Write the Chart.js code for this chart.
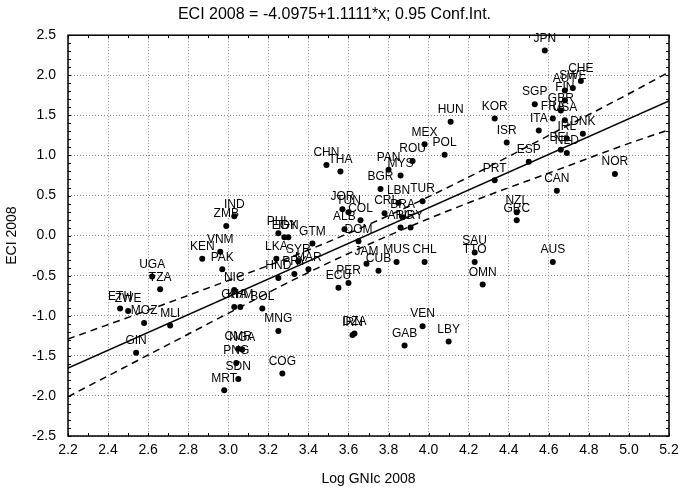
<!DOCTYPE html>
<html>
<head>
<meta charset="utf-8">
<title>ECI 2008 vs Log GNIc 2008</title>
<script src="https://cdn.jsdelivr.net/npm/chart.js@4.4.1/dist/chart.umd.min.js"></script>
<style>
  html, body { margin: 0; padding: 0; background: #fff; }
</style>
</head>
<body>
<canvas id="eciChart" width="680" height="492"></canvas>
<script>
// country codes with log GNI per capita and ECI, 2008
const countries = [
  'JPN', 'CHE', 'SWE', 'AUT', 'FIN', 'GBR', 'FRA', 'USA', 'ITA', 'SGP',
  'DNK', 'IRL', 'BEL', 'NLD', 'KOR', 'HUN', 'ISR', 'MEX', 'POL', 'ESP',
  'PRT', 'NOR', 'CAN', 'NZL', 'GRC', 'AUS', 'SAU', 'TTO', 'OMN', 'CHL',
  'MUS', 'VEN', 'LBY', 'GAB', 'IRN', 'DZA', 'CHN', 'THA', 'PAN', 'MYS',
  'ROU', 'BGR', 'LBN', 'TUR', 'CRI', 'BRA', 'ARG', 'URY', 'JOR', 'TUN',
  'COL', 'ALB', 'DOM', 'GTM', 'JAM', 'CUB', 'ECU', 'PER', 'MAR', 'PRY',
  'SYR', 'LKA', 'HND', 'PHL', 'EGY', 'IDN', 'MNG', 'COG', 'BOL', 'GHA',
  'KHM', 'IND', 'ZMB', 'VNM', 'PAK', 'KEN', 'NIC', 'UGA', 'TZA', 'ETH',
  'ZWE', 'MOZ', 'MLI', 'GIN', 'CMR', 'NGA', 'PNG', 'SDN', 'MRT'
]
const logGni = [
  4.58, 4.76, 4.72, 4.68, 4.68, 4.66, 4.62, 4.68, 4.55, 4.53,
  4.77, 4.69, 4.66, 4.69, 4.33, 4.11, 4.39, 3.98, 4.08, 4.50,
  4.33, 4.93, 4.64, 4.44, 4.44, 4.62, 4.23, 4.23, 4.27, 3.98,
  3.84, 3.97, 4.10, 3.88, 3.62, 3.63, 3.49, 3.56, 3.80, 3.86,
  3.92, 3.76, 3.85, 3.97, 3.78, 3.87, 3.86, 3.91, 3.57, 3.60,
  3.66, 3.58, 3.65, 3.42, 3.69, 3.75, 3.55, 3.60, 3.40, 3.33,
  3.35, 3.24, 3.25, 3.25, 3.28, 3.30, 3.25, 3.27, 3.17, 3.03,
  3.06, 3.03, 2.99, 2.96, 2.97, 2.87, 3.03, 2.62, 2.66, 2.46,
  2.50, 2.58, 2.71, 2.54, 3.05, 3.07, 3.04, 3.05, 2.98
]
const eci = [
  2.31, 1.93, 1.84, 1.81, 1.69, 1.56, 1.46, 1.44, 1.31, 1.64,
  1.27, 1.21, 1.07, 1.03, 1.46, 1.42, 1.16, 1.14, 1.01, 0.92,
  0.69, 0.77, 0.56, 0.29, 0.19, -0.33, -0.21, -0.33, -0.61, -0.33,
  -0.33, -1.13, -1.32, -1.37, -1.24, -1.22, 0.88, 0.80, 0.82, 0.75,
  0.93, 0.58, 0.41, 0.43, 0.28, 0.23, 0.10, 0.10, 0.33, 0.29,
  0.19, 0.08, -0.07, -0.10, -0.35, -0.44, -0.65, -0.59, -0.42, -0.48,
  -0.32, -0.29, -0.53, 0.03, -0.02, -0.02, -1.19, -1.72, -0.91, -0.89,
  -0.89, 0.24, 0.12, -0.20, -0.42, -0.29, -0.68, -0.51, -0.67, -0.91,
  -0.94, -1.09, -1.12, -1.46, -1.41, -1.42, -1.59, -1.79, -1.93
]

// fitted line: ECI = -4.0975 + 1.1111 * x
const intercept = -4.0975
const slope = 1.1111
const fitX = [2.2, 5.2]

// 0.95 confidence band
const bandX = [2.2, 2.6, 3.0, 3.4, 3.8, 4.2, 4.6, 5.0, 5.2]
const bandUpper = [-1.29, -0.93, -0.56, -0.18, 0.25, 0.73, 1.25, 1.77, 2.04]
const bandLower = [-2.01, -1.49, -0.97, -0.46, 0.00, 0.41, 0.78, 1.15, 1.32]

const chartTitle = 'ECI 2008 = -4.0975+1.1111*x; 0.95 Conf.Int.'
const xTitle = 'Log GNIc 2008'
const yTitle = 'ECI 2008'

const fontFamily = '"Liberation Sans", Arial, Helvetica, sans-serif'

function toPoints(xs, ys) {
  return xs.map((x, i) => ({ x: x, y: ys[i] }))
}

// country code above every dot
const pointLabels = {
  id: 'pointLabels',
  afterDatasetsDraw(chart) {
    const ctx = chart.ctx
    const meta = chart.getDatasetMeta(0)
    ctx.save()
    ctx.font = '12px ' + fontFamily
    ctx.fillStyle = '#000'
    ctx.textAlign = 'center'
    ctx.textBaseline = 'middle'
    meta.data.forEach((pt, i) => {
      ctx.fillText(countries[i], pt.x, pt.y - 12)
    })
    ctx.restore()
  }
}

// box round the plot plus small inward ticks on all four sides
const plotFrame = {
  id: 'plotFrame',
  afterDraw(chart) {
    const ctx = chart.ctx
    const a = chart.chartArea
    const xs = chart.scales.x
    const ys = chart.scales.y
    const len = 3
    ctx.save()
    ctx.strokeStyle = '#000'
    ctx.lineWidth = 1
    ctx.beginPath()
    for (let v = 22; v <= 52; v++) {
      const px = Math.round(xs.getPixelForValue(v / 10)) + 0.5
      ctx.moveTo(px, a.bottom); ctx.lineTo(px, a.bottom - len)
      ctx.moveTo(px, a.top); ctx.lineTo(px, a.top + len)
    }
    for (let v = -25; v <= 25; v++) {
      const py = Math.round(ys.getPixelForValue(v / 10)) + 0.5
      ctx.moveTo(a.left, py); ctx.lineTo(a.left + len, py)
      ctx.moveTo(a.right, py); ctx.lineTo(a.right - len, py)
    }
    ctx.stroke()
    ctx.lineWidth = 1.5
    ctx.strokeRect(a.left, a.top, a.right - a.left, a.bottom - a.top)
    ctx.restore()
  }
}

const lineStyle = {
  type: 'line',
  showLine: true,
  pointRadius: 0,
  borderColor: '#000',
  borderWidth: 1.5,
  fill: false,
  order: 1
}

new Chart(document.getElementById('eciChart'), {
  type: 'scatter',
  data: {
    datasets: [
      {
        data: toPoints(logGni, eci),
        backgroundColor: '#000',
        borderWidth: 0,
        pointRadius: 3,
        order: 0
      },
      Object.assign({}, lineStyle, {
        data: toPoints(fitX, fitX.map(x => intercept + slope * x))
      }),
      Object.assign({}, lineStyle, {
        data: toPoints(bandX, bandUpper),
        borderDash: [7, 5],
        cubicInterpolationMode: 'monotone'
      }),
      Object.assign({}, lineStyle, {
        data: toPoints(bandX, bandLower),
        borderDash: [7, 5],
        cubicInterpolationMode: 'monotone'
      })
    ]
  },
  options: {
    responsive: false,
    animation: false,
    devicePixelRatio: 1,
    events: [],
    layout: { padding: { left: 0, right: 11, top: 0, bottom: 0 } },
    plugins: {
      legend: { display: false },
      tooltip: { enabled: false },
      title: {
        display: true,
        text: chartTitle,
        color: '#000',
        font: { family: fontFamily, size: 16, weight: 'normal' },
        padding: { top: 5, bottom: 11 }
      }
    },
    scales: {
      x: {
        type: 'linear',
        min: 2.2,
        max: 5.2,
        afterFit(scale) {
          scale.height = 56
          scale.paddingLeft = 0
          scale.paddingRight = 0
        },
        ticks: {
          stepSize: 0.2,
          color: '#000',
          padding: 6,
          font: { family: fontFamily, size: 14 },
          callback: v => v.toFixed(1)
        },
        grid: { color: '#8a8a8a', lineWidth: 1, drawTicks: false },
        border: { display: false, dash: [1, 2] },
        title: {
          display: true,
          text: xTitle,
          color: '#000',
          font: { family: fontFamily, size: 14 },
          padding: { top: 4, bottom: 4 }
        }
      },
      y: {
        type: 'linear',
        min: -2.5,
        max: 2.5,
        afterFit(scale) { scale.width = 68 },
        ticks: {
          stepSize: 0.5,
          color: '#000',
          padding: 12,
          font: { family: fontFamily, size: 14 },
          callback: v => v.toFixed(1)
        },
        grid: { color: '#8a8a8a', lineWidth: 1, drawTicks: false },
        border: { display: false, dash: [1, 2] },
        title: {
          display: true,
          text: yTitle,
          color: '#000',
          font: { family: fontFamily, size: 14 },
          padding: { top: 4, bottom: 4 }
        }
      }
    }
  },
  plugins: [pointLabels, plotFrame]
})
</script>
</body>
</html>
